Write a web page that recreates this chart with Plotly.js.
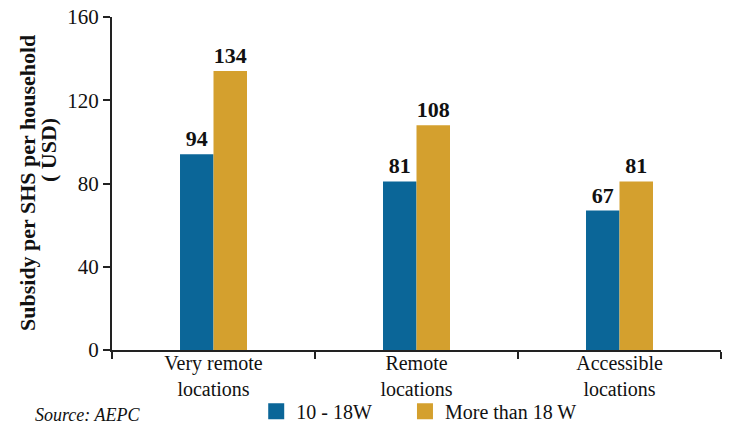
<!DOCTYPE html>
<html>
<head>
<meta charset="utf-8">
<script src="https://cdn.plot.ly/plotly-3.0.1.min.js"></script>
<style>html,body{margin:0;padding:0;background:#fff;}#chart{width:731px;height:428px;}</style>
</head>
<body>
<div id="chart"></div>
<script>
const categories = ["Very remote<br>locations", "Remote<br>locations", "Accessible<br>locations"];
const seriesNames = ["10 - 18W", "More than 18 W"];
const low = [94, 81, 67];
const high = [134, 108, 81];
const yTicks = [0, 40, 80, 120, 160];
const colors = ["#0b6698", "#d4a02e"];
const yTitleLines = ["Subsidy per SHS per household", "( USD)"];

const font = "'Liberation Serif', 'Times New Roman', serif";
const barTrace = (vals, i) => ({
  type: "bar", name: seriesNames[i], x: categories, y: vals, text: vals.map(String),
  textposition: "outside", cliponaxis: false, showlegend: false,
  textfont: {family: font, size: 22, color: "#111", weight: "bold"},
  marker: {color: colors[i]}
});
const legendTrace = (i, lg) => ({
  type: "scatter", mode: "markers", name: seriesNames[i], x: [null], y: [null], legend: lg,
  marker: {symbol: "square", size: 20, color: colors[i]}, showlegend: true
});
const traces = [barTrace(low, 0), barTrace(high, 1), legendTrace(0, "legend"), legendTrace(1, "legend2")];
const legendBase = {orientation: "h", xanchor: "left", xref: "container",
  y: 0.039, yanchor: "middle", yref: "container",
  font: {family: font, size: 20, color: "#111"}, itemwidth: 30, bgcolor: "rgba(0,0,0,0)"};
const layout = {
  width: 731, height: 428,
  margin: {l: 112, r: 10, t: 17, b: 78, autoexpand: false},
  paper_bgcolor: "#fff", plot_bgcolor: "#fff",
  font: {family: font, size: 20, color: "#111"},
  barmode: "group", bargap: 0.67, bargroupgap: 0,
  showlegend: true,
  legend: Object.assign({}, legendBase, {x: 0.3505}),
  legend2: Object.assign({}, legendBase, {x: 0.554}),
  xaxis: {showline: true, linecolor: "#222", linewidth: 2, ticks: "outside", tickson: "boundaries",
          ticklen: 7, tickwidth: 2, tickcolor: "#222", showgrid: false, zeroline: false,
          ticklabelstandoff: -6,
          tickfont: {family: font, size: 20, color: "#111"}},
  yaxis: {range: [0, 160], tickvals: yTicks, showline: true, linecolor: "#222", linewidth: 2,
          ticks: "outside", ticklen: 7, tickwidth: 2, tickcolor: "#222", showgrid: false, zeroline: false,
          tickfont: {family: font, size: 21, color: "#111"}},
  annotations: [
    {text: "<b>" + yTitleLines[0] + "</b>", textangle: -90, xref: "paper", yref: "paper",
     x: (27 - 112) / 609, y: (350 - 183) / 333, xanchor: "center", yanchor: "middle", showarrow: false,
     font: {family: font, size: 22, color: "#111"}},
    {text: "<b>" + yTitleLines[1] + "</b>", textangle: -90, xref: "paper", yref: "paper",
     x: (48 - 112) / 609, y: (350 - 150) / 333, xanchor: "center", yanchor: "middle", showarrow: false,
     font: {family: font, size: 22, color: "#111"}},
    {text: "<i>Source: AEPC</i>", xref: "paper", yref: "paper", x: -0.13, y: -0.231,
     xanchor: "left", yanchor: "bottom", showarrow: false,
     font: {family: font, size: 18, color: "#111"}}
  ]
};
Plotly.newPlot("chart", traces, layout, {displayModeBar: false, staticPlot: true});
</script>
</body>
</html>
